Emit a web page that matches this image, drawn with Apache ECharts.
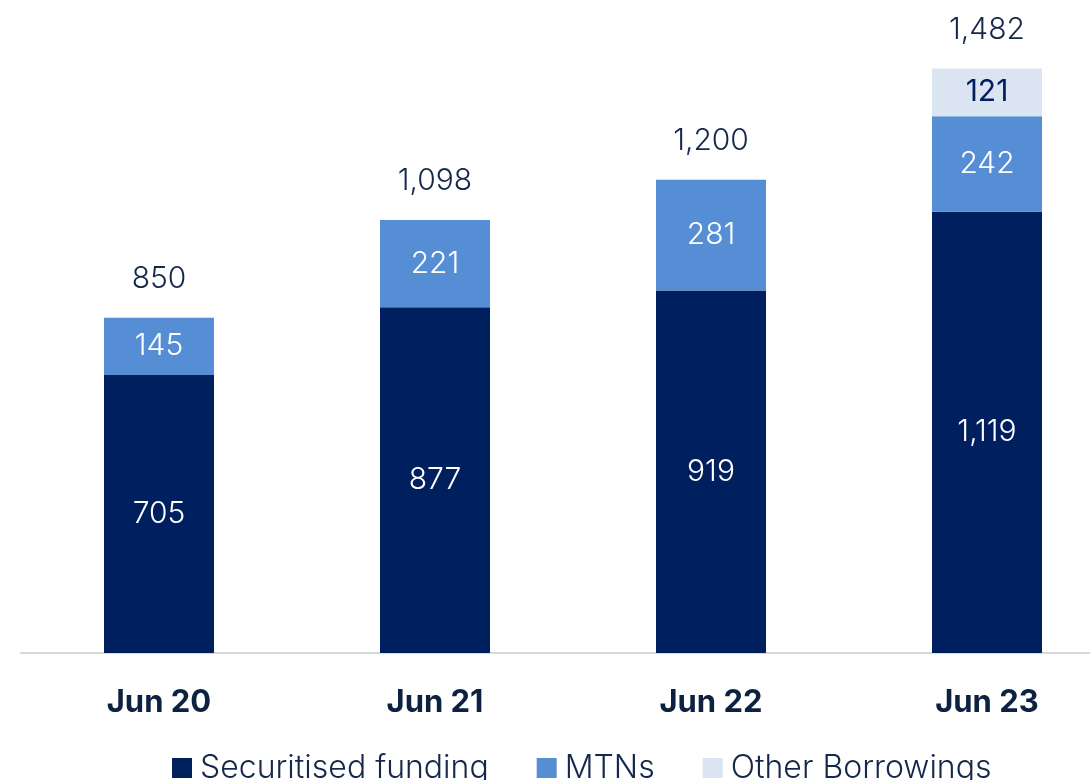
<!DOCTYPE html>
<html>
<head>
<meta charset="utf-8">
<script src="https://cdn.jsdelivr.net/npm/echarts@6/dist/echarts.min.js"></script>
<style>
  html, body { margin: 0; padding: 0; background: #fff; }
  #chart { width: 1090px; height: 780px; }
</style>
</head>
<body>
<div id="chart"></div>
<script>
// data
const categories = ['Jun 20', 'Jun 21', 'Jun 22', 'Jun 23'];
const securitised = [705, 877, 919, 1119];
const mtns = [145, 221, 281, 242];
const otherBorrowings = [0, 0, 0, 121];
const totals = [850, 1098, 1200, 1482];

const fmt = v => v.toLocaleString('en-US');
const textDark = '#14284b';
const numFont = { fontFamily: 'Inter', fontSize: 30, fontWeight: 300 };

const chart = echarts.init(document.getElementById('chart'));
chart.setOption({
  animation: false,
  legend: {
    data: ['Securitised funding', 'MTNs', 'Other Borrowings'],
    left: 172,
    top: 752,
    padding: 0,
    itemWidth: 20,
    itemHeight: 20,
    itemGap: 48,
    icon: 'rect',
    textStyle: { fontFamily: 'Inter', fontSize: 32, fontWeight: 300, color: textDark, padding: [0, 0, 0, 3] }
  },
  grid: { left: 21, right: -35, top: 0, bottom: 127, outerBoundsMode: 'none', containLabel: false },
  xAxis: {
    type: 'category',
    data: categories,
    axisLine: { lineStyle: { color: '#d9d9d9', width: 2 } },
    axisTick: { show: false },
    axisLabel: {
      margin: 34,
      fontFamily: 'Inter',
      fontWeight: 'bold',
      fontSize: 31,
      color: '#0d2240'
    }
  },
  yAxis: {
    type: 'value',
    min: 0,
    max: 1656,
    show: false
  },
  series: [
    {
      name: 'Securitised funding',
      type: 'bar',
      stack: 'b',
      barWidth: 110,
      data: securitised,
      itemStyle: { color: '#001f5f' },
      label: Object.assign({ show: true, position: 'inside', color: '#fff', formatter: p => fmt(p.value) }, numFont)
    },
    {
      name: 'MTNs',
      type: 'bar',
      stack: 'b',
      data: mtns,
      itemStyle: { color: '#558ed5' },
      label: Object.assign({ show: true, position: 'inside', color: '#fff', formatter: p => fmt(p.value) }, numFont)
    },
    {
      name: 'Other Borrowings',
      type: 'bar',
      stack: 'b',
      data: otherBorrowings,
      itemStyle: { color: '#dbe5f1' },
      label: { show: true, position: 'inside', color: '#001f5f', fontFamily: 'Inter', fontSize: 30,
        formatter: p => p.value ? fmt(p.value) : '' }
    },
    {
      // empty top segment, only carries the total label
      name: 'total',
      type: 'bar',
      stack: 'b',
      data: categories.map(() => 0),
      itemStyle: { color: 'transparent' },
      label: Object.assign({ show: true, position: 'top', distance: 24, color: textDark,
        formatter: p => fmt(totals[p.dataIndex]) }, numFont)
    }
  ]
});
</script>
</body>
</html>
